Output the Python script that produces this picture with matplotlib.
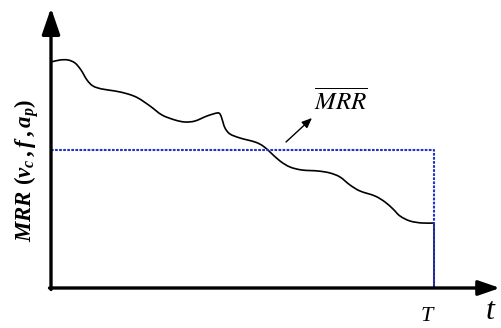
import matplotlib
matplotlib.use("Agg")
import matplotlib.pyplot as plt
import numpy as np
from matplotlib.path import Path
from matplotlib.patches import PathPatch

plt.rcParams['mathtext.fontset'] = 'custom'
plt.rcParams['mathtext.rm'] = 'Liberation Serif:bold'
plt.rcParams['mathtext.it'] = 'Liberation Serif:bold:italic'
plt.rcParams['mathtext.bf'] = 'Liberation Serif:bold'

# Material removal rate over machining time (schematic units)
t_vals = [0, 9, 17, 24, 30, 36, 42, 51, 64, 77, 87, 99, 111, 124, 134, 144,
          156, 166, 169, 171, 174, 179, 189, 204, 212, 219, 229, 239, 251, 267,
          279, 289, 299, 309, 324, 334, 342, 349, 359, 371, 383]
mrr_vals = [226, 228, 228, 225, 218, 208, 202, 199, 197, 194, 190, 182, 173,
            168, 166, 167, 172, 175, 174, 169, 160, 154, 150, 146, 142, 136,
            127, 121, 118, 117, 115, 111, 103, 97, 92, 86, 79, 72, 67, 65, 65]
T_end = 383
mrr_mean = 138


def smooth_path(xs, ys):
    """Cubic Bezier path passing through every given point (Catmull-Rom)."""
    p = np.column_stack([xs, ys]).astype(float)
    verts = [p[0]]
    codes = [Path.MOVETO]
    n = len(p)
    for i in range(n - 1):
        p0 = p[i - 1] if i > 0 else p[i]
        p1, p2 = p[i], p[i + 1]
        p3 = p[i + 2] if i + 2 < n else p[i + 1]
        c1 = p1 + (p2 - p0) / 6.0
        c2 = p2 - (p3 - p1) / 6.0
        verts += [c1, c2, p2]
        codes += [Path.CURVE4] * 3
    return Path(verts, codes)


fig = plt.figure(figsize=(5.01, 3.28), dpi=100)
ax = fig.add_axes([0, 0, 1, 1])
ax.set_xlim(-51, 450)
ax.set_ylim(-40, 288)
ax.axis('off')

# axes with arrowheads
ax.annotate('', xy=(449, 0), xytext=(-1.5, 0),
            arrowprops=dict(arrowstyle='-|>,head_length=1.3,head_width=0.45',
                            lw=2.4, color='black', shrinkA=0, shrinkB=0))
ax.annotate('', xy=(0, 280), xytext=(0, -1.5),
            arrowprops=dict(arrowstyle='-|>,head_length=1.6,head_width=0.55',
                            lw=2.4, color='black', shrinkA=0, shrinkB=0))

# MRR curve and drop to zero at T
ax.add_patch(PathPatch(smooth_path(t_vals, mrr_vals), facecolor='none',
                       edgecolor='black', lw=1.2, joinstyle='round'))
ax.plot([T_end, T_end], [mrr_vals[-1], 0], color='black', lw=1.2)

# mean MRR rectangle
ax.plot([0, T_end, T_end], [mrr_mean, mrr_mean, 0], color='#2233cc',
        lw=1.5, linestyle=(0, (1.3, 0.65)))

# label of the mean value
ax.text(263, 178, r'$\overline{MRR}$', fontsize=18, ha='left',
        va='baseline', math_fontfamily='stix')
ax.annotate('', xy=(261, 170), xytext=(235, 146),
            arrowprops=dict(arrowstyle='-|>,head_length=0.6,head_width=0.25',
                            lw=1.0, color='black', shrinkA=0, shrinkB=0))

ax.text(376, -33, 'T', fontsize=16, family='Liberation Serif', style='italic',
        ha='center', va='baseline')
ax.text(439, -31, 't', fontsize=23, family='Liberation Serif', style='italic',
        ha='center', va='baseline')

ax.text(-24, 118, r'$MRR\ (v_c\,,f\,,a_p)$', fontsize=16.5, rotation=90,
        ha='center', va='center')

fig.savefig('out.png', dpi=100)
